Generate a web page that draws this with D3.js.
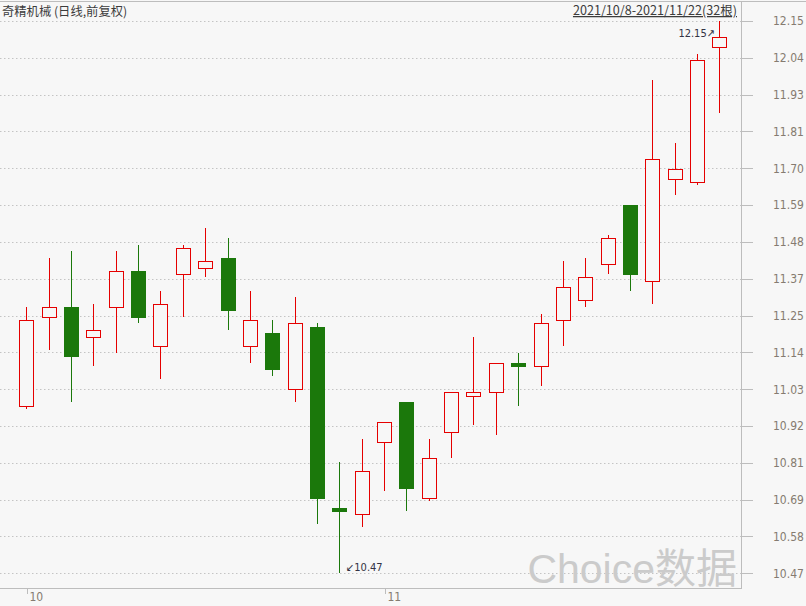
<!DOCTYPE html>
<html>
<head>
<meta charset="utf-8">
<script src="https://cdn.jsdelivr.net/npm/d3@7/dist/d3.min.js"></script>
<style>
  html, body { margin: 0; padding: 0; background: #f7f7f7; }
  svg { display: block; }
</style>
</head>
<body>
<svg id="chart" width="806" height="606"></svg>
<script>
const dates = ["2021-10-08","2021-10-11","2021-10-12","2021-10-13","2021-10-14","2021-10-15",
  "2021-10-18","2021-10-19","2021-10-20","2021-10-21","2021-10-22",
  "2021-10-25","2021-10-26","2021-10-27","2021-10-28","2021-10-29",
  "2021-11-01","2021-11-02","2021-11-03","2021-11-04","2021-11-05",
  "2021-11-08","2021-11-09","2021-11-10","2021-11-11","2021-11-12",
  "2021-11-15","2021-11-16","2021-11-17","2021-11-18","2021-11-19","2021-11-22"];
const open  = [10.98,11.25,11.28,11.19,11.28,11.39,11.16,11.38,11.40,11.43,11.16,11.20,11.03,11.22,10.67,10.65,10.87,10.99,10.70,10.90,11.01,11.02,11.11,11.10,11.24,11.30,11.41,11.59,11.36,11.67,11.66,12.07];
const high  = [11.28,11.43,11.45,11.29,11.45,11.47,11.33,11.47,11.52,11.49,11.33,11.24,11.31,11.23,10.81,10.88,10.93,10.99,10.88,11.02,11.19,11.11,11.14,11.26,11.42,11.43,11.50,11.59,11.97,11.78,12.05,12.15];
const low   = [10.97,11.15,10.99,11.10,11.14,11.23,11.06,11.25,11.37,11.21,11.11,11.07,10.99,10.62,10.47,10.61,10.72,10.66,10.69,10.82,10.92,10.89,10.98,11.04,11.16,11.28,11.38,11.33,11.29,11.62,11.65,11.87];
const close = [11.24,11.28,11.13,11.21,11.39,11.25,11.29,11.46,11.42,11.27,11.24,11.09,11.23,10.70,10.66,10.78,10.93,10.73,10.82,11.02,11.02,11.11,11.10,11.23,11.34,11.37,11.49,11.38,11.73,11.70,12.03,12.10];
const yTickLabels = ["12.15","12.04","11.93","11.81","11.70","11.59","11.48","11.37","11.25","11.14","11.03","10.92","10.81","10.69","10.58","10.47"];
const xTickDates = ["2021-10-08","2021-11-01"];
const xTickLabels = ["10","11"];
const title = "奇精机械 (日线,前复权)";
const rangeText = "2021/10/8-2021/11/22(32根)";

const UP = "#e50000", DOWN = "#1b780b", BG = "#f7f7f7";
const plotRight = 741, axisY = 588;

const svg = d3.select("#chart");
svg.append("rect").attr("width", 806).attr("height", 606).attr("fill", BG);

const yMin = d3.min(low), yMax = d3.max(high);
const y = d3.scaleLinear().domain([yMin, yMax]).range([573.3, 21]);
const x = d3.scaleBand().domain(dates).range([15.1, 730.6]).padding(0);
const cx = d => Math.round(x(d) + x.bandwidth() / 2);

// gridlines
const yTickVals = d3.range(yTickLabels.length).map(i => yMax - i * (yMax - yMin) / (yTickLabels.length - 1));
svg.append("g").selectAll("line").data(yTickVals).join("line")
  .attr("x1", 0).attr("x2", plotRight)
  .attr("y1", d => Math.round(y(d)) + 0.5).attr("y2", d => Math.round(y(d)) + 0.5)
  .attr("stroke", "#c4c4c4").attr("stroke-width", 1).attr("stroke-dasharray", "1.5,2.5");

// frame
svg.append("line").attr("x1", 0).attr("x2", 806).attr("y1", 1.5).attr("y2", 1.5).attr("stroke", "#bdbdbd");
svg.append("line").attr("x1", plotRight + 0.5).attr("x2", plotRight + 0.5).attr("y1", 1).attr("y2", axisY + 1).attr("stroke", "#bdbdbd");
svg.append("line").attr("x1", 0).attr("x2", plotRight + 1).attr("y1", axisY + 0.5).attr("y2", axisY + 0.5).attr("stroke", "#bdbdbd");

// y axis
const yAxis = svg.append("g").attr("transform", `translate(${plotRight + 1},0)`);
yAxis.selectAll("line").data(yTickVals).join("line")
  .attr("x1", 0).attr("x2", 11)
  .attr("y1", d => Math.round(y(d)) + 0.5).attr("y2", d => Math.round(y(d)) + 0.5)
  .attr("stroke", "#bdbdbd");
yAxis.selectAll("text").data(yTickLabels).join("text")
  .attr("x", 31).attr("y", (d, i) => y(yTickVals[i]))
  .attr("dy", "0.36em")
  .attr("font-family", "'Liberation Sans Narrow', 'DejaVu Sans Condensed', 'Liberation Sans', sans-serif")
  .attr("font-size", 12).attr("fill", "#857b70")
  .text(d => d);

// x axis
const xAxis = svg.append("g");
xAxis.selectAll("line").data(xTickDates).join("line")
  .attr("x1", d => cx(d) + 1.5).attr("x2", d => cx(d) + 1.5)
  .attr("y1", axisY).attr("y2", axisY + 6).attr("stroke", "#bdbdbd");
xAxis.selectAll("text").data(xTickLabels).join("text")
  .attr("x", (d, i) => cx(xTickDates[i]) + 3.5).attr("y", 601)
  .attr("font-family", "'Liberation Sans Narrow', 'DejaVu Sans Condensed', 'Liberation Sans', sans-serif")
  .attr("font-size", 12).attr("fill", "#857b70")
  .text(d => d);

// watermark
svg.append("text").attr("x", 737).attr("y", 583).attr("text-anchor", "end")
  .attr("font-family", "'Liberation Sans', 'Noto Sans CJK SC', sans-serif")
  .attr("font-size", 41).attr("fill", "#cbcbcb").text("Choice数据");

// candles
const candles = svg.append("g").attr("shape-rendering", "crispEdges");
dates.forEach((d, i) => {
  const c = cx(d);
  const up = close[i] >= open[i];
  const col = up ? UP : DOWN;
  candles.append("line")
    .attr("x1", c + 0.5).attr("x2", c + 0.5)
    .attr("y1", y(high[i])).attr("y2", y(low[i]))
    .attr("stroke", col).attr("stroke-width", 1);
  const top = Math.round(y(Math.max(open[i], close[i])));
  const bot = Math.round(y(Math.min(open[i], close[i])));
  if (up) {
    candles.append("rect")
      .attr("x", c - 6.5).attr("y", top + 0.5)
      .attr("width", 14).attr("height", Math.max(1, bot - top))
      .attr("fill", BG).attr("stroke", col).attr("stroke-width", 1);
  } else {
    candles.append("rect")
      .attr("x", c - 7).attr("y", top)
      .attr("width", 15).attr("height", Math.max(2, bot - top + 1))
      .attr("fill", col);
  }
});

// max/min annotations
const iMax = high.indexOf(yMax), iMin = low.indexOf(yMin);
svg.append("text").attr("x", cx(dates[iMax]) - 4).attr("y", y(yMax) + 12).attr("dy", "0.35em")
  .attr("text-anchor", "end").attr("font-family", "'DejaVu Sans Condensed', 'Liberation Sans', sans-serif")
  .attr("font-size", 11).attr("fill", "#333344").text(d3.format(".2f")(yMax) + "↗");
svg.append("text").attr("x", cx(dates[iMin]) + 7).attr("y", y(yMin) - 6).attr("dy", "0.35em")
  .attr("font-family", "'DejaVu Sans Condensed', 'Liberation Sans', sans-serif")
  .attr("font-size", 11).attr("fill", "#333344").text("↙" + d3.format(".2f")(yMin));

// title texts
svg.append("text").attr("x", 2).attr("y", 16)
  .attr("font-family", "'Noto Sans CJK SC', sans-serif").attr("font-size", 12.3)
  .attr("fill", "#3c3c3c").text(title);
svg.append("text").attr("x", 737).attr("y", 15).attr("text-anchor", "end")
  .attr("font-family", "'Noto Sans CJK SC', sans-serif").attr("font-size", 12.6)
  .attr("fill", "#3c3c3c").attr("text-decoration", "underline").text(rangeText);
</script>
</body>
</html>
